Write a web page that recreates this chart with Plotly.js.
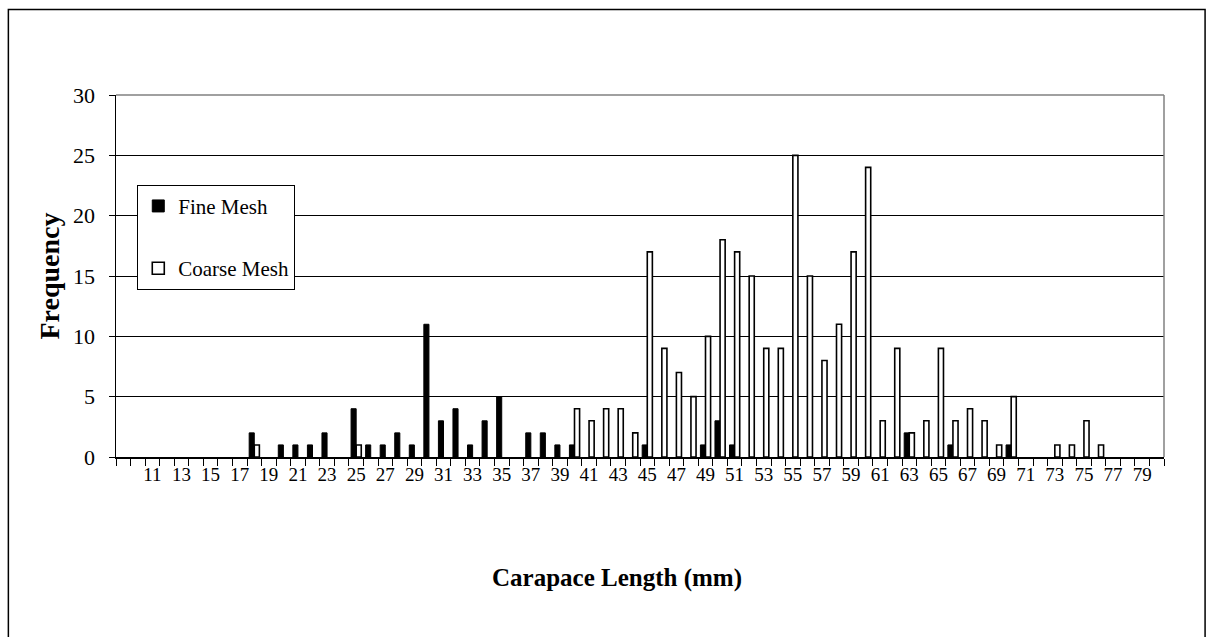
<!DOCTYPE html>
<html>
<head>
<meta charset="utf-8">
<script src="https://cdn.plot.ly/plotly-3.0.1.min.js"></script>
<style>
html,body{margin:0;padding:0;background:#fff;}
#chart{width:1206px;height:637px;}
</style>
</head>
<body>
<div id="chart"></div>
<script>
// Carapace length categories (mm)
var lengths = [9,10,11,12,13,14,15,16,17,18,
  19,20,21,22,23,24,25,26,27,28,
  29,30,31,32,33,34,35,36,37,38,
  39,40,41,42,43,44,45,46,47,48,
  49,50,51,52,53,54,55,56,57,58,
  59,60,61,62,63,64,65,66,67,68,
  69,70,71,72,73,74,75,76,77,78,
  79,80];

var fineMesh = [0,0,0,0,0,0,0,0,0,2,
  0,1,1,1,2,0,4,1,1,2,
  1,11,3,4,1,3,5,0,2,2,
  1,1,0,0,0,0,1,0,0,0,
  1,3,1,0,0,0,0,0,0,0,
  0,0,0,0,2,0,0,1,0,0,
  0,1,0,0,0,0,0,0,0,0,
  0,0];

var coarseMesh = [0,0,0,0,0,0,0,0,0,1,
  0,0,0,0,0,0,1,0,0,0,
  0,0,0,0,0,0,0,0,0,0,
  0,4,3,4,4,2,17,9,7,5,
  10,18,17,15,9,9,25,15,8,11,
  17,24,3,9,2,3,9,3,4,3,
  1,5,0,0,1,1,3,1,0,0,
  0,0];

var xTickLabels = [11,13,15,17,19,21,23,25,27,29,31,33,35,37,39,41,43,45,47,49,
  51,53,55,57,59,61,63,65,67,69,71,73,75,77,79];
var yTicks = [0,5,10,15,20,25,30];

var serif = "Liberation Serif, 'Times New Roman', serif";

// empty classes are left undrawn (no zero-height outline)
function nz(arr){ return arr.map(function(v){ return v === 0 ? null : v; }); }

var traces = [
  {type:'bar', name:'Fine Mesh', x:lengths, y:nz(fineMesh), legendgroup:'a',
   marker:{color:'#000', line:{color:'#000', width:1}}, hoverinfo:'x+y'},
  {type:'bar', name:'Coarse Mesh', x:lengths, y:nz(coarseMesh), legendgroup:'b',
   marker:{color:'#fff', line:{color:'#000', width:1.6}}, hoverinfo:'x+y'}
];

var layout = {
  width:1206, height:637,
  margin:{l:116, r:42, t:95, b:180},
  paper_bgcolor:'#fff', plot_bgcolor:'#fff',
  font:{family:serif, color:'#000', size:20},
  barmode:'group', bargap:0.3, bargroupgap:0,
  showlegend:true,
  legend:{x:0.0203, y:0.752, xanchor:'left', yanchor:'top',
    bgcolor:'#fff', bordercolor:'#000', borderwidth:1,
    traceorder:'grouped', tracegroupgap:32,
    entrywidth:185, entrywidthmode:'pixels',
    font:{family:serif, size:21, color:'#000'}},
  xaxis:{
    range:[8.5,80.5], tickmode:'array', tickvals:xTickLabels,
    ticktext:xTickLabels.map(String), ticks:'', showgrid:false, zeroline:false,
    showline:true, linecolor:'#000', linewidth:1.5,
    tickfont:{family:serif, size:19, color:'#000'},
    minor:{ticks:'outside', tickmode:'linear', tick0:8.5, dtick:1, ticklen:7, tickcolor:'#000', tickwidth:1, showgrid:false},
    fixedrange:true
  },
  yaxis:{
    range:[0,30], tickmode:'array', tickvals:yTicks, ticks:'outside', ticklen:6,
    tickcolor:'#000', showgrid:true, gridcolor:'#000', gridwidth:1,
    zeroline:false, showline:true, linecolor:'#000', linewidth:1.5,
    ticklabelstandoff:9,
    tickfont:{family:serif, size:22, color:'#000'},
    title:{text:'Frequency', font:{family:serif, size:28, weight:'bold', color:'#000'}, standoff:5},
    fixedrange:true
  },
  annotations:[
    {text:'Carapace Length (mm)', xref:'paper', yref:'paper', x:0.4776, y:-0.334,
     xanchor:'center', yanchor:'middle', showarrow:false,
     font:{family:serif, size:25, weight:'bold', color:'#000'}}
  ],
  shapes:[
    {type:'line', xref:'paper', yref:'paper', x0:0, x1:1, y0:1, y1:1, line:{color:'#808080', width:1.5}},
    {type:'line', xref:'paper', yref:'paper', x0:1, x1:1, y0:0, y1:1, line:{color:'#808080', width:1.5}},
    {type:'rect', xref:'paper', yref:'paper', x0:-0.1027, x1:1.0392, y0:-0.52, y1:1.2362, line:{color:'#000', width:1.5}, fillcolor:'rgba(0,0,0,0)', layer:'above'}
  ]
};

Plotly.newPlot('chart', traces, layout, {displayModeBar:false, staticPlot:true});
</script>
</body>
</html>
